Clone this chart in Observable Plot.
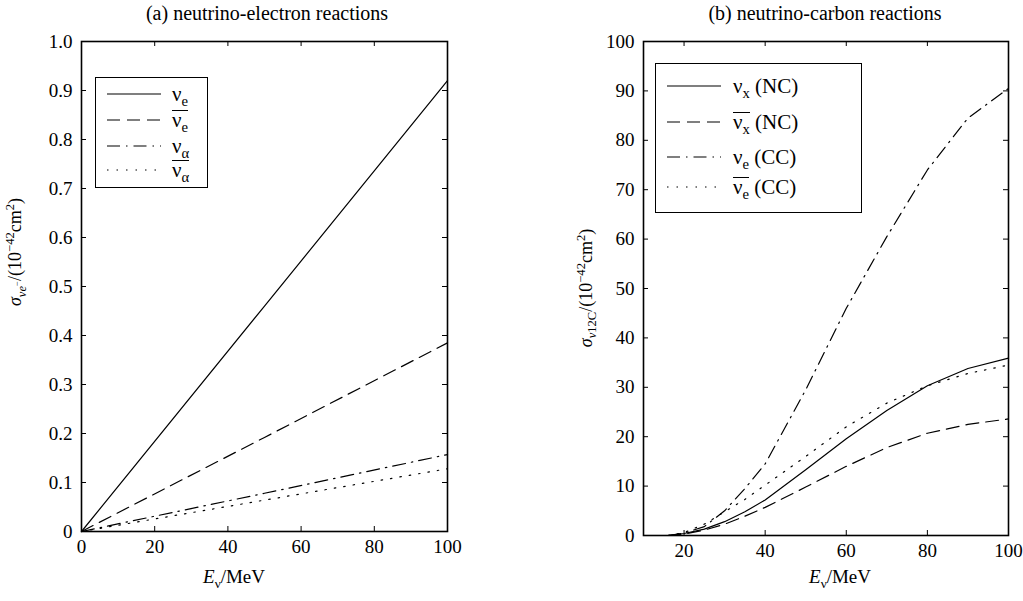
<!DOCTYPE html>
<html>
<head>
<meta charset="utf-8">
<script src="https://cdn.jsdelivr.net/npm/d3@7"></script>
<script src="https://cdn.jsdelivr.net/npm/@observablehq/plot@0.6"></script>
<style>
  html, body { margin: 0; padding: 0; background: #fff; }
  #root { position: relative; width: 1023px; height: 601px; overflow: hidden; font-family: "Liberation Serif", "Times New Roman", serif; color: #000; }
  .abs { position: absolute; }
  .title { font-size: 20px; white-space: nowrap; transform: translateX(-50%); }
  .xlab { font-size: 19px; white-space: nowrap; transform: translateX(-50%); }
  .ylab { font-size: 18px; white-space: nowrap; transform: translate(-50%, -50%) rotate(-90deg); }
  .legend { border: 1.6px solid #000; background: #fff; box-sizing: border-box; }
  .row { position: absolute; left: 0; height: 24px; display: flex; align-items: center; font-size: 21px; white-space: nowrap; }
  .row svg { flex: none; }
  .ov { display: inline-block; border-top: 1.2px solid #000; line-height: 16px; padding-top: 1px; }
  sub, sup { font-size: 0.7em; line-height: 0; }
</style>
</head>
<body>
<div id="root"></div>
<script>
// ---------- data ----------
// (a) neutrino-electron reactions
const eE = [0, 50, 100];
const nuE = [0, 0.46, 0.92];
const antiNuE = [0, 0.192, 0.385];
const nuAlpha = [0, 0.078, 0.157];
const antiNuAlpha = [0, 0.064, 0.128];
const leftXTicks = [0, 20, 40, 60, 80, 100];
const leftYTicks = [0, 0.1, 0.2, 0.3, 0.4, 0.5, 0.6, 0.7, 0.8, 0.9, 1.0];

// (b) neutrino-carbon reactions
const eC = [16, 20, 25, 30, 35, 40, 50, 60, 70, 80, 90, 100];
const nuX_NC = [0, 0.4, 1.3, 2.8, 4.8, 7.2, 13.3, 19.6, 25.3, 30.3, 33.8, 35.9];
const antiNuX_NC = [0, 0.3, 1.1, 2.3, 3.9, 5.7, 9.8, 14.0, 17.8, 20.7, 22.5, 23.6];
const nuE_CC = [0, 0.5, 1.8, 5.0, 9.5, 14.5, 29.5, 46.0, 60.5, 74.0, 84.5, 90.5];
const antiNuE_CC = [0, 0.6, 2.3, 4.8, 7.3, 10.2, 16.0, 22.0, 26.8, 30.3, 32.8, 34.5];
const rightXTicks = [20, 40, 60, 80, 100];
const rightYTicks = [0, 10, 20, 30, 40, 50, 60, 70, 80, 90, 100];

// ---------- styles ----------
const SERIF = '"Liberation Serif", "Times New Roman", serif';
const DASH = { solid: null, dashed: "13,7", dashdot: "13,6,1.5,6", dotted: "1.5,8" };
const root = document.getElementById("root");

function panel({xs, series, xDomain, yDomain, xTicks, yTicks, yFmt, left, width, margins}) {
  const rows = [];
  series.forEach((s, i) => s.values.forEach((v, j) => rows.push({x: xs[j], y: v, k: i})));
  const plotH = 601 - margins.top - margins.bottom;
  const plotW = width - margins.left - margins.right;
  const marks = [];
  series.forEach((s, i) => {
    marks.push(Plot.line(rows.filter(r => r.k === i), {
      x: "x", y: "y", stroke: "black", strokeWidth: 1.2,
      strokeDasharray: DASH[s.style], curve: "linear"
    }));
  });
  const T = 5;
  marks.push(
    Plot.tickX(xTicks, {x: d => d, insetTop: plotH - T, stroke: "black", strokeWidth: 1}),
    Plot.tickX(xTicks, {x: d => d, insetBottom: plotH - T, stroke: "black", strokeWidth: 1}),
    Plot.tickY(yTicks, {y: d => d, insetRight: plotW - T, stroke: "black", strokeWidth: 1}),
    Plot.tickY(yTicks, {y: d => d, insetLeft: plotW - T, stroke: "black", strokeWidth: 1}),
    Plot.axisX(xTicks, {tickSize: 0, tickPadding: 8, fontSize: 19, label: null, tickFormat: d => String(d)}),
    Plot.axisY(yTicks, {tickSize: 0, tickPadding: 9, fontSize: 19, label: null, tickFormat: yFmt}),
    Plot.frame({stroke: "black", strokeWidth: 1.6})
  );
  const svg = Plot.plot({
    width, height: 601,
    marginTop: margins.top, marginBottom: margins.bottom,
    marginLeft: margins.left, marginRight: margins.right,
    x: {domain: xDomain},
    y: {domain: yDomain},
    marks
  });
  svg.style.position = "absolute";
  svg.style.left = left + "px";
  svg.style.top = "0px";
  svg.style.background = "transparent";
  svg.style.overflow = "visible";
  svg.style.fontFamily = SERIF;
  svg.setAttribute("font-family", SERIF);
  svg.querySelectorAll("g, text, tspan").forEach(t => {
    t.removeAttribute("font-family");
    t.style.fontFamily = SERIF;
  });
  svg.querySelectorAll("text").forEach(t => { t.style.fontSize = "19px"; t.setAttribute("fill", "black"); });
  root.appendChild(svg);
}

panel({
  xs: eE,
  series: [
    {values: nuE, style: "solid"},
    {values: antiNuE, style: "dashed"},
    {values: nuAlpha, style: "dashdot"},
    {values: antiNuAlpha, style: "dotted"}
  ],
  xDomain: [0, 100], yDomain: [0, 1],
  xTicks: leftXTicks, yTicks: leftYTicks,
  yFmt: d => d === 0 ? "0" : d.toFixed(1),
  left: 0, width: 500,
  margins: {top: 41, bottom: 70, left: 81, right: 53}
});

panel({
  xs: eC,
  series: [
    {values: nuX_NC, style: "solid"},
    {values: antiNuX_NC, style: "dashed"},
    {values: nuE_CC, style: "dashdot"},
    {values: antiNuE_CC, style: "dotted"}
  ],
  xDomain: [10, 100], yDomain: [0, 100],
  xTicks: rightXTicks, yTicks: rightYTicks,
  yFmt: d => String(d),
  left: 520, width: 503,
  margins: {top: 41, bottom: 66, left: 123, right: 15}
});

// ---------- text ----------
function addDiv(cls, html, x, y) {
  const d = document.createElement("div");
  d.className = "abs " + cls;
  d.style.left = x + "px";
  d.style.top = y + "px";
  d.innerHTML = html;
  root.appendChild(d);
  return d;
}
addDiv("title", "(a) neutrino-electron reactions", 267, 2);
addDiv("title", "(b) neutrino-carbon reactions", 825, 2);
addDiv("xlab", "<i>E</i><sub>ν</sub>/MeV", 234, 566);
addDiv("xlab", "<i>E</i><sub>ν</sub>/MeV", 840, 566);
addDiv("ylab", "<i>σ</i><sub><i>νe</i><sup>−</sup></sub>/(10<sup>−42</sup>cm<sup>2</sup>)", 15, 252);
addDiv("ylab", "<i>σ</i><sub><i>ν</i>12C</sub>/(10<sup>−42</sup>cm<sup>2</sup>)", 586, 288);

// ---------- legends ----------
function legend(x, y, w, h, rowsY, items) {
  const box = document.createElement("div");
  box.className = "abs legend";
  Object.assign(box.style, {left: x + "px", top: y + "px", width: w + "px", height: h + "px"});
  items.forEach((it, i) => {
    const r = document.createElement("div");
    r.className = "row";
    r.style.top = (rowsY[i] - 12) + "px";
    const dash = DASH[it.style];
    r.innerHTML = `<svg width="72" height="24"><line x1="11" x2="65" y1="12" y2="12" stroke="black" stroke-width="1.2" ${dash ? `stroke-dasharray="${dash}"` : ""}/></svg><span style="margin-left:${it.pad}px">${it.label}</span>`;
    box.appendChild(r);
  });
  root.appendChild(box);
}
legend(95, 77, 113, 111, [16, 42, 68, 92], [
  {style: "solid", label: "ν<sub>e</sub>", pad: 4},
  {style: "dashed", label: '<span class="ov">ν<sub>e</sub></span>', pad: 4},
  {style: "dashdot", label: "ν<sub>α</sub>", pad: 4},
  {style: "dotted", label: '<span class="ov">ν<sub>α</sub></span>', pad: 4}
]);
legend(655, 63, 207, 150, [22, 58, 93, 123], [
  {style: "solid", label: "ν<sub>x</sub> (NC)", pad: 5},
  {style: "dashed", label: '<span class="ov">ν<sub>x</sub></span> (NC)', pad: 5},
  {style: "dashdot", label: "ν<sub>e</sub> (CC)", pad: 5},
  {style: "dotted", label: '<span class="ov">ν<sub>e</sub></span> (CC)', pad: 5}
]);
</script>
</body>
</html>
